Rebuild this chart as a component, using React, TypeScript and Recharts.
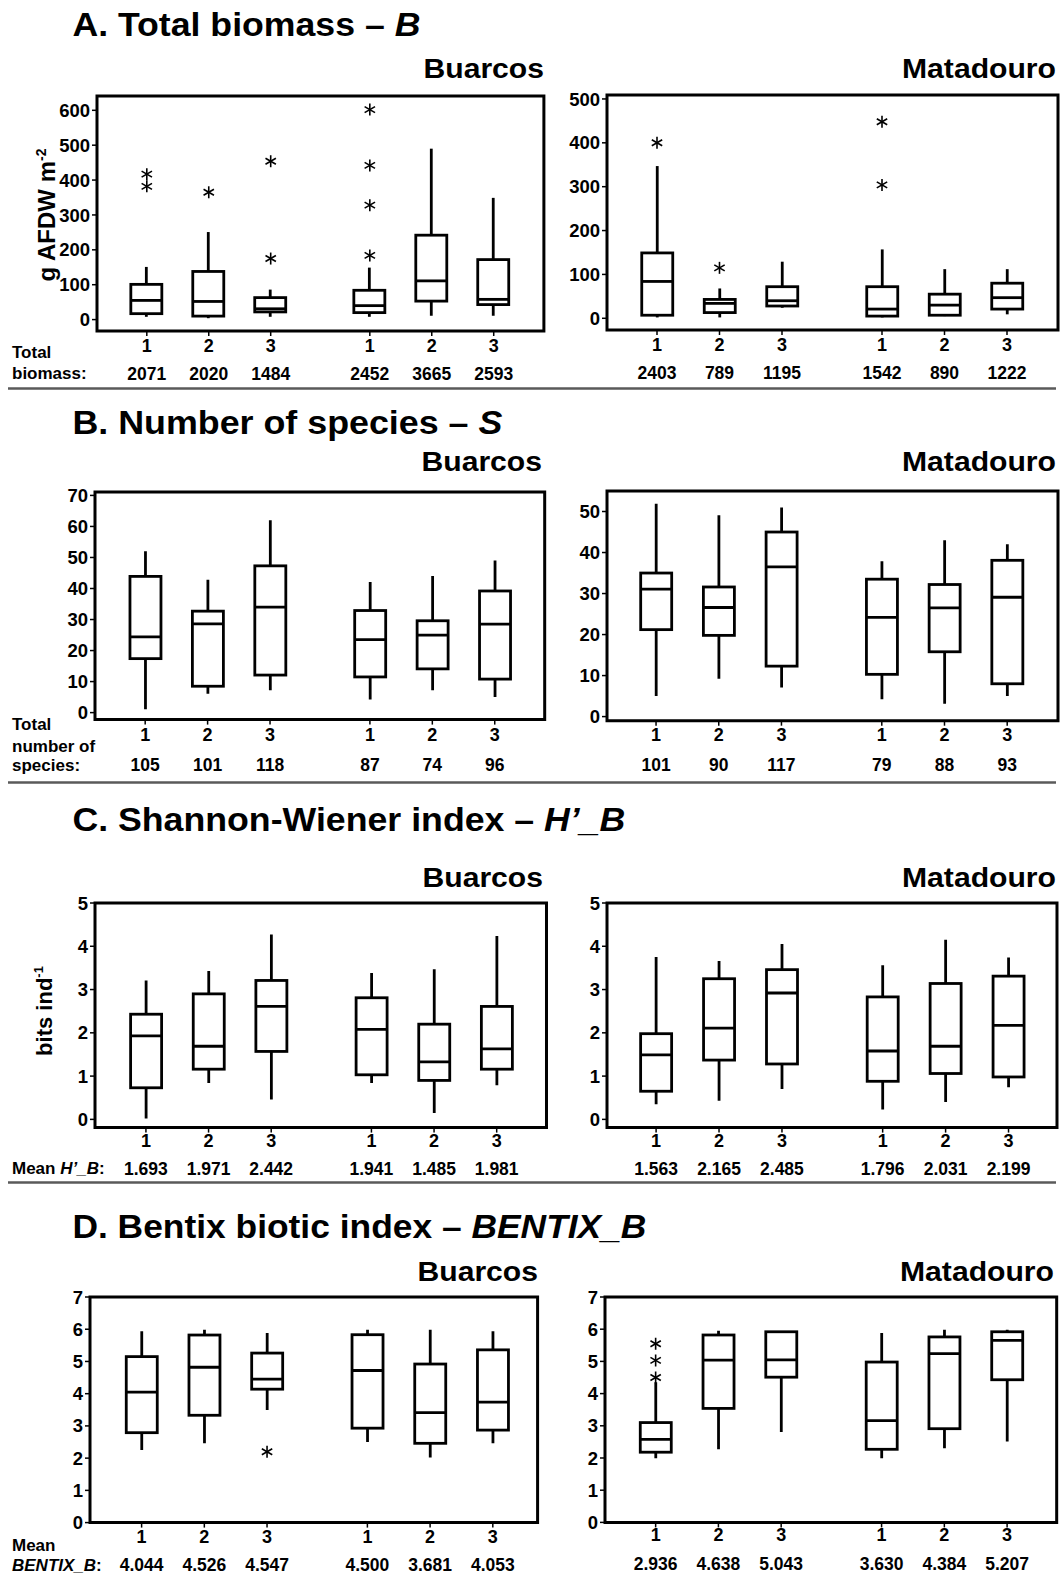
import React from 'react';
import { ComposedChart, Bar, Scatter, XAxis, YAxis, ReferenceArea } from 'recharts';

const FONT = '"Liberation Sans", Arial, sans-serif';

// x positions of the six boxes: three sampling campaigns per period, with a gap between periods
const positions = [1, 2, 3, 4.6, 5.6, 6.6];
const sampleLabels = ['1', '2', '3', '1', '2', '3'];

// each box: [lower whisker, Q1, median, Q3, upper whisker]
const biomassBuarcos = [
  [8, 17, 55, 101, 151],
  [4, 10, 52, 138, 251],
  [8, 22, 31, 63, 86],
  [8, 20, 40, 84, 149],
  [11, 53, 111, 242, 490],
  [11, 43, 58, 172, 349],
];
const biomassBuarcosOutliers = [[0, 417], [0, 382], [1, 365], [2, 454], [2, 175], [3, 602], [3, 442], [3, 328], [3, 184]];
const biomassBuarcosTotals = ['2071', '2020', '1484', '2452', '3665', '2593'];

const biomassMatadouro = [
  [2, 7, 84, 149, 347],
  [2, 13, 34, 43, 68],
  [24, 28, 40, 72, 129],
  [2, 5, 21, 72, 157],
  [5, 7, 30, 55, 112],
  [9, 21, 47, 80, 112],
];
const biomassMatadouroOutliers = [[0, 400], [1, 115], [3, 448], [3, 304]];
const biomassMatadouroTotals = ['2403', '789', '1195', '1542', '890', '1222'];

const speciesBuarcos = [
  [1.1, 17.4, 24.4, 43.9, 52],
  [6.1, 8.5, 28.6, 32.7, 42.8],
  [7.2, 12.1, 34, 47.3, 62],
  [4.2, 11.5, 23.5, 32.9, 42.1],
  [7.2, 14.1, 25, 29.6, 44],
  [5, 10.8, 28.5, 39.2, 49],
];
const speciesBuarcosTotals = ['105', '101', '118', '87', '74', '96'];

const speciesMatadouro = [
  [5, 21.2, 31.1, 35, 51.9],
  [9.2, 19.8, 26.6, 31.6, 49.1],
  [7.1, 12.3, 36.5, 45, 51],
  [4.2, 10.3, 24.2, 33.5, 37.9],
  [3.1, 15.8, 26.5, 32.2, 43],
  [5, 8, 29.1, 38.1, 42],
];
const speciesMatadouroTotals = ['101', '90', '117', '79', '88', '93'];

const shannonBuarcos = [
  [0.02, 0.73, 1.93, 2.43, 3.21],
  [0.84, 1.16, 1.69, 2.9, 3.43],
  [0.46, 1.57, 2.61, 3.21, 4.27],
  [0.84, 1.03, 2.08, 2.81, 3.38],
  [0.15, 0.9, 1.33, 2.2, 3.47],
  [0.79, 1.16, 1.63, 2.61, 4.24],
];
const shannonBuarcosMeans = ['1.693', '1.971', '2.442', '1.941', '1.485', '1.981'];

const shannonMatadouro = [
  [0.35, 0.65, 1.49, 1.98, 3.75],
  [0.43, 1.37, 2.11, 3.25, 3.66],
  [0.7, 1.28, 2.92, 3.46, 4.05],
  [0.23, 0.88, 1.58, 2.83, 3.56],
  [0.4, 1.06, 1.69, 3.14, 4.15],
  [0.74, 0.98, 2.17, 3.31, 3.74],
];
const shannonMatadouroMeans = ['1.563', '2.165', '2.485', '1.796', '2.031', '2.199'];

const bentixBuarcos = [
  [2.25, 2.79, 4.05, 5.15, 5.94],
  [2.46, 3.33, 4.82, 5.82, 5.98],
  [3.49, 4.14, 4.45, 5.26, 5.88],
  [2.5, 2.93, 4.72, 5.83, 5.98],
  [2.02, 2.46, 3.41, 4.92, 5.98],
  [2.46, 2.87, 3.74, 5.36, 5.94],
];
const bentixBuarcosOutliers = [[2, 2.2]];
const bentixBuarcosMeans = ['4.044', '4.526', '4.547', '4.500', '3.681', '4.053'];

const bentixMatadouro = [
  [1.99, 2.18, 2.58, 3.1, 4.35],
  [2.27, 3.54, 5.04, 5.82, 5.95],
  [2.81, 4.51, 5.05, 5.92, 5.93],
  [1.99, 2.27, 3.16, 4.98, 5.88],
  [2.3, 2.91, 5.24, 5.76, 5.98],
  [2.51, 4.43, 5.65, 5.92, 5.98],
];
const bentixMatadouroOutliers = [[0, 4.5], [0, 5.03], [0, 5.55]];
const bentixMatadouroMeans = ['2.936', '4.638', '5.043', '3.630', '4.384', '5.207'];

const ticks = (max: number, step: number) => {
  const out: number[] = [];
  for (let v = 0; v <= max + 1e-9; v += step) out.push(v);
  return out;
};

// box, whiskers and median drawn from the bar's own [Q1, Q3] rectangle
const renderBox = (props: any) => {
  const { x, y, width, height, payload } = props;
  const top = Math.min(y, y + height);
  const h = Math.abs(height);
  const ppu = h / (payload.q3 - payload.q1);
  const py = (v: number) => top + (payload.q3 - v) * ppu;
  const cx = x + width / 2;
  const sw = 2.8;
  return (
    <g>
      <line x1={cx} x2={cx} y1={py(payload.high)} y2={top} stroke="#000" strokeWidth={sw} />
      <line x1={cx} x2={cx} y1={top + h} y2={py(payload.low)} stroke="#000" strokeWidth={sw} />
      <rect x={x} y={top} width={width} height={h} fill="none" stroke="#000" strokeWidth={sw} />
      <line x1={x} x2={x + width} y1={py(payload.med)} y2={py(payload.med)} stroke="#000" strokeWidth={sw} />
    </g>
  );
};

const renderStar = (props: any) => {
  const { cx, cy } = props;
  const r = 6;
  const arms = [90, 30, 150].map((a) => {
    const rad = (a * Math.PI) / 180;
    return { dx: r * Math.cos(rad), dy: r * Math.sin(rad) };
  });
  return (
    <g>
      {arms.map((a, i) => (
        <line key={i} x1={cx - a.dx} y1={cy - a.dy} x2={cx + a.dx} y2={cy + a.dy} stroke="#000" strokeWidth={1.6} />
      ))}
    </g>
  );
};

interface PanelProps {
  left: number;
  top: number;
  width: number;
  height: number;
  xDomain: [number, number];
  yDomain: [number, number];
  yTicks: number[];
  stats: number[][];
  outliers?: number[][];
  footer: string[];
  tickDy: number;
  footDy: number;
}

const Panel = ({ left, top, width, height, xDomain, yDomain, yTicks, stats, outliers = [], footer, tickDy, footDy }: PanelProps) => {
  const data = positions.map((pos, i) => {
    const [low, q1, med, q3, high] = stats[i];
    return { pos, box: [q1, q3], low, q1, med, q3, high };
  });
  const outlierData = outliers.map(([i, v]) => ({ pos: positions[i], v }));

  const renderTick = (p: any) => {
    const i = positions.findIndex((v) => Math.abs(v - p.payload.value) < 1e-6);
    return (
      <g>
        <text x={p.x} y={p.y + tickDy} textAnchor="middle" fontSize={18} fontWeight="bold" fontFamily={FONT} fill="#000">
          {sampleLabels[i]}
        </text>
        <text x={p.x} y={p.y + footDy} textAnchor="middle" fontSize={17.5} fontWeight="bold" fontFamily={FONT} fill="#000">
          {footer[i]}
        </text>
      </g>
    );
  };

  return (
    <div style={{ position: 'absolute', left: left - 60, top: top - 10 }}>
      <ComposedChart width={width + 63} height={height + 70} data={data} margin={{ top: 10, right: 3, bottom: 0, left: 0 }}>
        <XAxis
          dataKey="pos"
          type="number"
          domain={xDomain}
          allowDataOverflow
          ticks={positions}
          interval={0}
          height={60}
          axisLine={false}
          tickLine={{ stroke: '#000', strokeWidth: 1.5 }}
          tickSize={5}
          tickMargin={0}
          tick={renderTick}
        />
        <YAxis
          type="number"
          domain={yDomain}
          allowDataOverflow
          ticks={yTicks}
          interval={0}
          width={60}
          axisLine={false}
          tickLine={{ stroke: '#000', strokeWidth: 1.5 }}
          tickSize={5}
          tickMargin={2}
          tick={{ fill: '#000', fontSize: 18.5, fontWeight: 700, fontFamily: FONT }}
        />
        <Bar dataKey="box" barSize={31} shape={renderBox} isAnimationActive={false} />
        <Scatter data={outlierData} dataKey="v" shape={renderStar} isAnimationActive={false} />
        <ReferenceArea
          x1={xDomain[0]}
          x2={xDomain[1]}
          y1={yDomain[0]}
          y2={yDomain[1]}
          fill="none"
          fillOpacity={0}
          stroke="#000"
          strokeWidth={3}
          ifOverflow="visible"
        />
      </ComposedChart>
    </div>
  );
};

const textStyle = { fontFamily: FONT, fontWeight: 700, fill: '#000' } as const;

const App = () => (
  <div style={{ position: 'absolute', left: 0, top: 0, width: 1061, height: 1577, overflow: 'hidden', background: '#fff' }}>
    {/* A. Total biomass */}
    <Panel left={97.4} top={95.7} width={446.9} height={235} xDomain={[0.196, 7.41]} yDomain={[-32.7, 641]}
      yTicks={ticks(600, 100)} stats={biomassBuarcos} outliers={biomassBuarcosOutliers} footer={biomassBuarcosTotals} tickDy={16} footDy={44} />
    <Panel left={606.7} top={95} width={451} height={235} xDomain={[0.2, 7.416]} yDomain={[-26.7, 509]}
      yTicks={ticks(500, 100)} stats={biomassMatadouro} outliers={biomassMatadouroOutliers} footer={biomassMatadouroTotals} tickDy={16} footDy={44} />

    {/* B. Number of species */}
    <Panel left={94.6} top={491.7} width={449.7} height={227.6} xDomain={[0.196, 7.4]} yDomain={[-2.25, 71.1]}
      yTicks={ticks(70, 10)} stats={speciesBuarcos} footer={speciesBuarcosTotals} tickDy={16} footDy={46} />
    <Panel left={606.7} top={491} width={451} height={229.7} xDomain={[0.218, 7.41]} yDomain={[-1, 55]}
      yTicks={ticks(50, 10)} stats={speciesMatadouro} footer={speciesMatadouroTotals} tickDy={15} footDy={45} />

    {/* C. Shannon-Wiener index */}
    <Panel left={95.3} top={902.7} width={451.5} height={224.6} xDomain={[0.187, 7.395]} yDomain={[-0.19, 5]}
      yTicks={ticks(5, 1)} stats={shannonBuarcos} footer={shannonBuarcosMeans} tickDy={14} footDy={42} />
    <Panel left={606.7} top={902.7} width={450} height={224.6} xDomain={[0.22, 7.37]} yDomain={[-0.19, 5]}
      yTicks={ticks(5, 1)} stats={shannonMatadouro} footer={shannonMatadouroMeans} tickDy={14} footDy={42} />

    {/* D. Bentix biotic index */}
    <Panel left={90.4} top={1296.7} width={447.6} height={225.6} xDomain={[0.177, 7.314]} yDomain={[0, 7]}
      yTicks={ticks(7, 1)} stats={bentixBuarcos} outliers={bentixBuarcosOutliers} footer={bentixBuarcosMeans} tickDy={15} footDy={43.5} />
    <Panel left={605} top={1297.3} width={451.7} height={225.4} xDomain={[0.193, 7.39]} yDomain={[0, 7]}
      yTicks={ticks(7, 1)} stats={bentixMatadouro} outliers={bentixMatadouroOutliers} footer={bentixMatadouroMeans} tickDy={14} footDy={43} />

    <svg width={1061} height={1577} style={{ position: 'absolute', left: 0, top: 0, pointerEvents: 'none' }}>
      {/* section titles */}
      <text x={72.4} y={36} fontSize={33} textLength={348} lengthAdjust="spacingAndGlyphs" style={textStyle}>
        A. Total biomass – <tspan fontStyle="italic">B</tspan>
      </text>
      <text x={72.4} y={433.5} fontSize={33} textLength={430} lengthAdjust="spacingAndGlyphs" style={textStyle}>
        B. Number of species – <tspan fontStyle="italic">S</tspan>
      </text>
      <text x={72.4} y={830.6} fontSize={33} textLength={553} lengthAdjust="spacingAndGlyphs" style={textStyle}>
        C. Shannon-Wiener index – <tspan fontStyle="italic">H’_B</tspan>
      </text>
      <text x={72.4} y={1238} fontSize={33} textLength={574} lengthAdjust="spacingAndGlyphs" style={textStyle}>
        D. Bentix biotic index – <tspan fontStyle="italic">BENTIX_B</tspan>
      </text>

      {/* site headings */}
      {[77.5, 470.6, 887, 1281].map((y, i) => (
        <g key={i}>
          <text x={[544, 542, 543, 538][i]} y={y} fontSize={28} textAnchor="end" textLength={120.5} lengthAdjust="spacingAndGlyphs" style={textStyle}>
            Buarcos
          </text>
          <text x={[1056, 1056, 1056, 1054][i]} y={y} fontSize={28} textAnchor="end" textLength={154} lengthAdjust="spacingAndGlyphs" style={textStyle}>
            Matadouro
          </text>
        </g>
      ))}

      {/* axis titles */}
      <text transform="translate(55,215) rotate(-90)" textAnchor="middle" fontSize={24} style={textStyle}>
        g AFDW m<tspan dy={-9} fontSize={14}>-2</tspan>
      </text>
      <text transform="translate(52,1011) rotate(-90)" textAnchor="middle" fontSize={22} style={textStyle}>
        bits ind<tspan dy={-9} fontSize={13}>-1</tspan>
      </text>

      {/* row captions */}
      <text x={12} y={357.8} fontSize={17} style={textStyle}>Total</text>
      <text x={12} y={379.4} fontSize={17} style={textStyle}>biomass:</text>
      <text x={12} y={730} fontSize={17} style={textStyle}>Total</text>
      <text x={12} y={752} fontSize={17} style={textStyle}>number of</text>
      <text x={12} y={771} fontSize={17} style={textStyle}>species:</text>
      <text x={12} y={1174.4} fontSize={17} style={textStyle}>
        Mean <tspan fontStyle="italic">H’_B</tspan>:
      </text>
      <text x={12} y={1551} fontSize={17} style={textStyle}>Mean</text>
      <text x={12} y={1571} fontSize={17} style={textStyle}>
        <tspan fontStyle="italic">BENTIX_B</tspan>:
      </text>

      {/* separators between sections */}
      {[388.5, 782.5, 1182.5].map((y) => (
        <line key={y} x1={8} x2={1056} y1={y} y2={y} stroke="#5a5a5a" strokeWidth={2.5} />
      ))}
    </svg>
  </div>
);

export default App;
